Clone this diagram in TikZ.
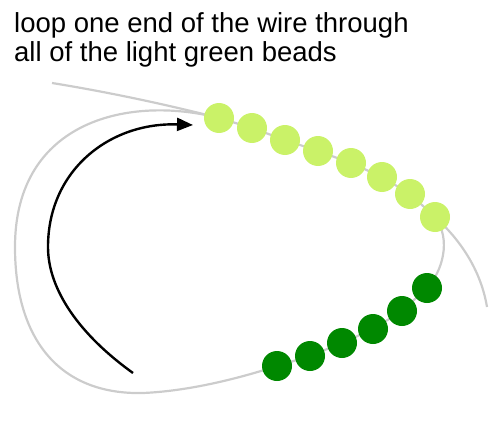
\documentclass[tikz,border=0pt]{standalone}
\usepackage{fontspec}
\setmainfont{Liberation Sans}
\usepackage{tikz}
\usetikzlibrary{arrows,arrows.meta,positioning}

\definecolor{lightbead}{RGB}{202,242,104}
\definecolor{darkbead}{RGB}{0,136,0}
\definecolor{wiregray}{RGB}{204,204,204}

\tikzset{
  lbead/.style={circle,fill=lightbead,minimum size=30pt,inner sep=0pt},
  dbead/.style={circle,fill=darkbead,minimum size=30pt,inner sep=0pt},
  wire/.style={draw=wiregray,line width=2.2pt},
  caption/.style={anchor=base west,inner sep=0pt,font=\fontsize{27.5}{30}\selectfont},
}

\begin{document}
\begin{tikzpicture}[x=1pt,y=-1pt]
\useasboundingbox (0,0) rectangle (500,433);

\node[caption] at (14,33) (textA) {loop one end of the wire through};
\node[caption] at (14,62) (textB) {all of the light green beads};

% light green beads
\coordinate (l1) at (219,118);
\coordinate (l2) at (252,128);
\coordinate (l3) at (285,140);
\coordinate (l4) at (318,151);
\coordinate (l5) at (351,163);
\coordinate (l6) at (382,177);
\coordinate (l7) at (410,194);
\coordinate (l8) at (435,217);

% dark green beads
\coordinate (d1) at (277,366);
\coordinate (d2) at (310,356);
\coordinate (d3) at (342,343);
\coordinate (d4) at (373,329);
\coordinate (d5) at (402,311);
\coordinate (d6) at (427,288);

\coordinate (tailA) at (52,83);
\coordinate (tailB) at (487,307);
\coordinate (arrS) at (133,373);
\coordinate (arrM) at (48,247);
\coordinate (arrE) at (193,125);

% wire
\draw[wire] (tailA) .. controls (120,94) and (180,108) .. (l1)
  -- (l2) -- (l3) -- (l4) -- (l5) -- (l6) -- (l7) -- (l8)
  .. controls (455,235) and (480,265) .. (tailB);
\draw[wire] (l1) .. controls (130,95) and (15,120) .. (15,247)
  .. controls (15,340) and (60,395) .. (143,393)
  .. controls (190,391) and (240,378) .. (d1)
  -- (d2) -- (d3) -- (d4) -- (d5) -- (d6)
  .. controls (442,272) and (452,240) .. (l8);

\node[lbead] at (l1) (bl1) {};
\node[lbead] at (l2) (bl2) {};
\node[lbead] at (l3) (bl3) {};
\node[lbead] at (l4) (bl4) {};
\node[lbead] at (l5) (bl5) {};
\node[lbead] at (l6) (bl6) {};
\node[lbead] at (l7) (bl7) {};
\node[lbead] at (l8) (bl8) {};

\node[dbead] at (d1) (bd1) {};
\node[dbead] at (d2) (bd2) {};
\node[dbead] at (d3) (bd3) {};
\node[dbead] at (d4) (bd4) {};
\node[dbead] at (d5) (bd5) {};
\node[dbead] at (d6) (bd6) {};

\draw[-{Triangle[length=16pt,width=13pt]}, line width=2.4pt] (arrS) .. controls (80,335) and (48,290) .. (arrM)
  .. controls (48,170) and (110,122) .. (arrE);

\end{tikzpicture}
\end{document}
